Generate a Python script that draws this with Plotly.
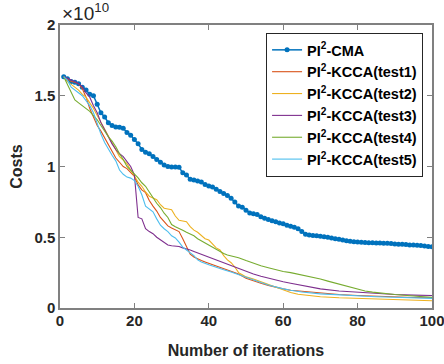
import plotly.graph_objects as go

FONT = "Liberation Sans, Arial, sans-serif"

# ---- data (costs in units of 1e10) ----
iters = list(range(1, 101))
cma = [1.635, 1.62, 1.60, 1.595, 1.585, 1.56, 1.54, 1.51, 1.50, 1.44,
       1.38, 1.35, 1.31, 1.29, 1.28, 1.278, 1.27, 1.24, 1.22, 1.19,
       1.16, 1.12, 1.10, 1.09, 1.07, 1.05, 1.03, 1.01, 1.0, 0.997,
       0.996, 0.995, 0.955, 0.94, 0.91, 0.905, 0.898, 0.89, 0.872, 0.862,
       0.855, 0.84, 0.823, 0.81, 0.795, 0.776, 0.75, 0.72, 0.712, 0.69,
       0.672, 0.666, 0.66, 0.645, 0.635, 0.625, 0.617, 0.61, 0.60, 0.595,
       0.585, 0.577, 0.57, 0.56, 0.54, 0.522, 0.516, 0.512, 0.51, 0.507,
       0.503, 0.50, 0.495, 0.49, 0.485, 0.48, 0.476, 0.472, 0.468, 0.466,
       0.464, 0.463, 0.462, 0.461, 0.46, 0.459, 0.458, 0.457, 0.455, 0.453,
       0.451, 0.45, 0.448, 0.446, 0.445, 0.443, 0.441, 0.438, 0.435, 0.432]

t1_x = [1, 2, 3, 4, 5, 6, 7, 8, 9, 10, 11, 12, 13, 14, 15, 16, 17, 18, 19, 20,
        21, 22, 23, 24, 25, 26, 27, 28, 29, 30, 31, 32, 33, 34, 35, 36, 37, 38, 39, 40,
        42, 44, 46, 48, 50, 52, 54, 56, 58, 60, 62, 65, 70, 75, 80, 85, 90, 95, 100]
t1_y = [1.635, 1.62, 1.60, 1.595, 1.585, 1.55, 1.49, 1.41, 1.35, 1.29, 1.25, 1.20, 1.16, 1.10, 1.06,
        1.03, 1.0, 0.985, 0.96, 0.93, 0.87, 0.835, 0.815, 0.76, 0.72, 0.685, 0.64, 0.61, 0.58, 0.565,
        0.55, 0.54, 0.49, 0.43, 0.38, 0.36, 0.345, 0.335, 0.325, 0.315, 0.30, 0.28, 0.26, 0.24, 0.21,
        0.19, 0.175, 0.16, 0.145, 0.135, 0.125, 0.117, 0.105, 0.095, 0.088, 0.082, 0.078, 0.074, 0.072]

t2_x = [1, 2, 3, 4, 5, 6, 7, 8, 9, 10, 11, 12, 13, 14, 15, 16, 17, 18, 19, 20,
        21, 22, 23, 24, 25, 26, 27, 28, 29, 30, 31, 32, 33, 34, 35, 36, 37, 38, 39, 40,
        41, 42, 43, 44, 45, 46, 47, 48, 49, 50, 52, 54, 56, 58, 60, 62, 64, 66, 70, 75,
        80, 85, 90, 95, 100]
t2_y = [1.635, 1.60, 1.58, 1.56, 1.54, 1.51, 1.49, 1.45, 1.41, 1.36, 1.31, 1.26, 1.22, 1.17, 1.11,
        1.07, 1.045, 1.02, 0.975, 0.93, 0.89, 0.86, 0.82, 0.79, 0.775, 0.765, 0.73, 0.705, 0.70, 0.695,
        0.65, 0.62, 0.615, 0.61, 0.575, 0.55, 0.535, 0.515, 0.49, 0.48, 0.455, 0.425, 0.41, 0.37, 0.34,
        0.32, 0.29, 0.25, 0.235, 0.22, 0.205, 0.185, 0.165, 0.145, 0.125, 0.11, 0.097, 0.09, 0.08, 0.072,
        0.068, 0.062, 0.058, 0.054, 0.051]

t3_x = [1, 2, 3, 4, 5, 6, 7, 8, 9, 10, 11, 12, 13, 14, 15, 16, 17, 18, 19, 20,
        21, 22, 23, 24, 25, 26, 27, 28, 29, 30, 31, 32, 33, 34, 35, 36, 38, 40, 42, 44,
        46, 48, 50, 52, 54, 56, 58, 60, 62, 65, 70, 75, 80, 85, 90, 95, 100]
t3_y = [1.635, 1.625, 1.61, 1.60, 1.585, 1.565, 1.52, 1.49, 1.43, 1.38, 1.31, 1.26, 1.20, 1.16, 1.12,
        1.09, 1.07, 1.035, 1.0, 0.94, 0.64, 0.63, 0.56, 0.54, 0.525, 0.50, 0.48, 0.46, 0.445, 0.44,
        0.438, 0.435, 0.425, 0.42, 0.41, 0.40, 0.38, 0.355, 0.335, 0.32, 0.295, 0.28, 0.26, 0.24, 0.225,
        0.21, 0.195, 0.185, 0.175, 0.16, 0.135, 0.12, 0.11, 0.10, 0.095, 0.091, 0.088]

t4_x = [1, 2, 3, 4, 5, 6, 7, 8, 9, 10, 11, 12, 13, 14, 15, 16, 17, 18, 19, 20,
        21, 22, 23, 24, 25, 26, 27, 28, 29, 30, 31, 32, 33, 34, 35, 36, 37, 38, 39, 40,
        41, 42, 43, 44, 45, 46, 47, 48, 50, 52, 54, 56, 58, 60, 62, 64, 66, 68, 70, 72,
        74, 76, 78, 80, 82, 84, 86, 88, 90, 95, 100]
t4_y = [1.635, 1.58, 1.52, 1.47, 1.45, 1.43, 1.41, 1.39, 1.36, 1.33, 1.29, 1.25, 1.21, 1.18, 1.14,
        1.09, 1.05, 1.0, 0.975, 0.95, 0.92, 0.885, 0.86, 0.82, 0.78, 0.74, 0.71, 0.67, 0.64, 0.59,
        0.575, 0.565, 0.55, 0.535, 0.525, 0.51, 0.49, 0.475, 0.455, 0.445, 0.425, 0.41, 0.40, 0.385, 0.375,
        0.37, 0.36, 0.355, 0.335, 0.315, 0.298, 0.285, 0.27, 0.258, 0.25, 0.24, 0.228, 0.215, 0.205, 0.19,
        0.175, 0.16, 0.145, 0.13, 0.12, 0.112, 0.105, 0.10, 0.095, 0.085, 0.075]

t5_x = [1, 2, 3, 4, 5, 6, 7, 8, 9, 10, 11, 12, 13, 14, 15, 16, 17, 18, 19, 20,
        21, 22, 23, 24, 25, 26, 27, 28, 29, 30, 31, 32, 33, 34, 35, 36, 37, 38, 40, 42,
        44, 46, 48, 50, 52, 54, 56, 58, 60, 62, 65, 70, 75, 80, 85, 90, 95, 100]
t5_y = [1.635, 1.61, 1.56, 1.54, 1.52, 1.50, 1.465, 1.43, 1.38, 1.30, 1.23, 1.17, 1.12, 1.08, 1.04,
        0.975, 0.945, 0.925, 0.918, 0.90, 0.86, 0.80, 0.72, 0.70, 0.68, 0.63, 0.585, 0.56, 0.54, 0.51,
        0.495, 0.465, 0.43, 0.41, 0.39, 0.37, 0.34, 0.325, 0.305, 0.285, 0.27, 0.255, 0.235, 0.215, 0.198,
        0.18, 0.163, 0.148, 0.135, 0.125, 0.113, 0.10, 0.092, 0.085, 0.08, 0.076, 0.072, 0.068]

names = ["PI<sup>2</sup>-CMA", "PI<sup>2</sup>-KCCA(test1)", "PI<sup>2</sup>-KCCA(test2)",
         "PI<sup>2</sup>-KCCA(test3)", "PI<sup>2</sup>-KCCA(test4)", "PI<sup>2</sup>-KCCA(test5)"]
colors = ["#0072BD", "#D95319", "#EDB120", "#7E2F8E", "#77AC30", "#4DBEEE"]

x_ticks = [0, 20, 40, 60, 80, 100]
y_ticks = [0, 0.5, 1, 1.5, 2]
y_tick_text = ["0", "0.5", "1", "1.5", "2"]

fig = go.Figure()
fig.add_trace(go.Scatter(x=iters, y=cma, name=names[0], mode="lines+markers",
                         line=dict(color=colors[0], width=1.5),
                         marker=dict(color=colors[0], size=5, symbol="circle")))
for i, (xs, ys) in enumerate([(t1_x, t1_y), (t2_x, t2_y), (t3_x, t3_y), (t4_x, t4_y), (t5_x, t5_y)]):
    fig.add_trace(go.Scatter(x=xs, y=ys, name=names[i + 1], mode="lines",
                             line=dict(color=colors[i + 1], width=1.1)))

axis_color = "#808080"
tickfont = dict(family=FONT, size=15, color="#262626", weight="bold")
fig.update_layout(
    width=444, height=364,
    margin=dict(l=60, r=12, t=25, b=55.5, autoexpand=False),
    paper_bgcolor="white", plot_bgcolor="white",
    showlegend=True,
    legend=dict(x=0.976, y=0.972, xanchor="right", yanchor="top",
                bgcolor="white", bordercolor="#262626", borderwidth=1,
                font=dict(family=FONT, size=14.5, color="#000000", weight="bold"),
                tracegroupgap=0, itemwidth=30),
    xaxis=dict(range=[0, 100], tickvals=x_ticks, ticks="inside", ticklen=5,
               tickcolor=axis_color, showline=True, linecolor=axis_color, linewidth=1.5,
               mirror="ticks", showgrid=False, zeroline=False, tickfont=tickfont,
               automargin=False, ticklabeloverflow="allow", ticklabelstandoff=-2,
               title=dict(text="Number of iterations", standoff=17,
                          font=dict(family=FONT, size=16, color="#262626", weight="bold"))),
    yaxis=dict(range=[0, 2], tickvals=y_ticks, ticktext=y_tick_text, ticks="inside", ticklen=5,
               tickcolor=axis_color, showline=True, linecolor=axis_color, linewidth=1.5,
               mirror="ticks", showgrid=False, zeroline=False, tickfont=tickfont,
               automargin=False, ticklabeloverflow="allow",
               title=dict(text="Costs", standoff=8,
                          font=dict(family=FONT, size=16, color="#262626", weight="bold"))),
    annotations=[dict(text="×10<sup>10</sup>", xref="paper", yref="paper", x=0, y=1,
                      xanchor="left", yanchor="bottom", showarrow=False, yshift=-1,
                      font=dict(family=FONT, size=19, color="#262626"))],
)

fig.write_html("out.html")
